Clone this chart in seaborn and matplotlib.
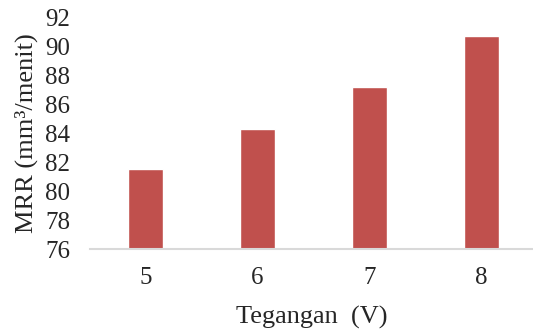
import matplotlib
matplotlib.use("Agg")
import matplotlib.pyplot as plt
import seaborn as sns
import pandas as pd

voltage = ["5", "6", "7", "8"]
mrr = [81.55, 84.3, 87.22, 90.77]
yticks = [76, 78, 80, 82, 84, 86, 88, 90, 92]

sns.set_style("white")
plt.rcParams['font.family'] = ['Liberation Serif', 'DejaVu Serif']

df = pd.DataFrame({"Tegangan": voltage, "MRR": mrr})
fig = plt.figure(figsize=(5.33, 3.30), dpi=100)
ax = fig.add_axes([89.5/533, (330-249)/330, (533-89.5)/533, (249-18)/330])
sns.barplot(data=df, x="Tegangan", y="MRR", color="#C0504D", width=0.31,
            saturation=1, ax=ax)
ax.set_ylim(76, 92)
ax.set_xlim(-0.5, 3.46)
ax.set_yticks(yticks)
ax.set_yticklabels([str(t) for t in yticks])
ax.tick_params(axis='both', labelsize=18, length=0)
ax.tick_params(axis='y', pad=14)
ax.tick_params(axis='x', pad=13)
for s in ["top", "right", "left"]:
    ax.spines[s].set_visible(False)
ax.spines["bottom"].set_color("#D9D9D9")
ax.spines["bottom"].set_linewidth(1.5)
ax.set_xlabel("Tegangan  (V)", fontsize=19, labelpad=12)
ax.set_ylabel("MRR (mm³/menit)", fontsize=19, labelpad=5)
fig.savefig("out.png", dpi=100)
